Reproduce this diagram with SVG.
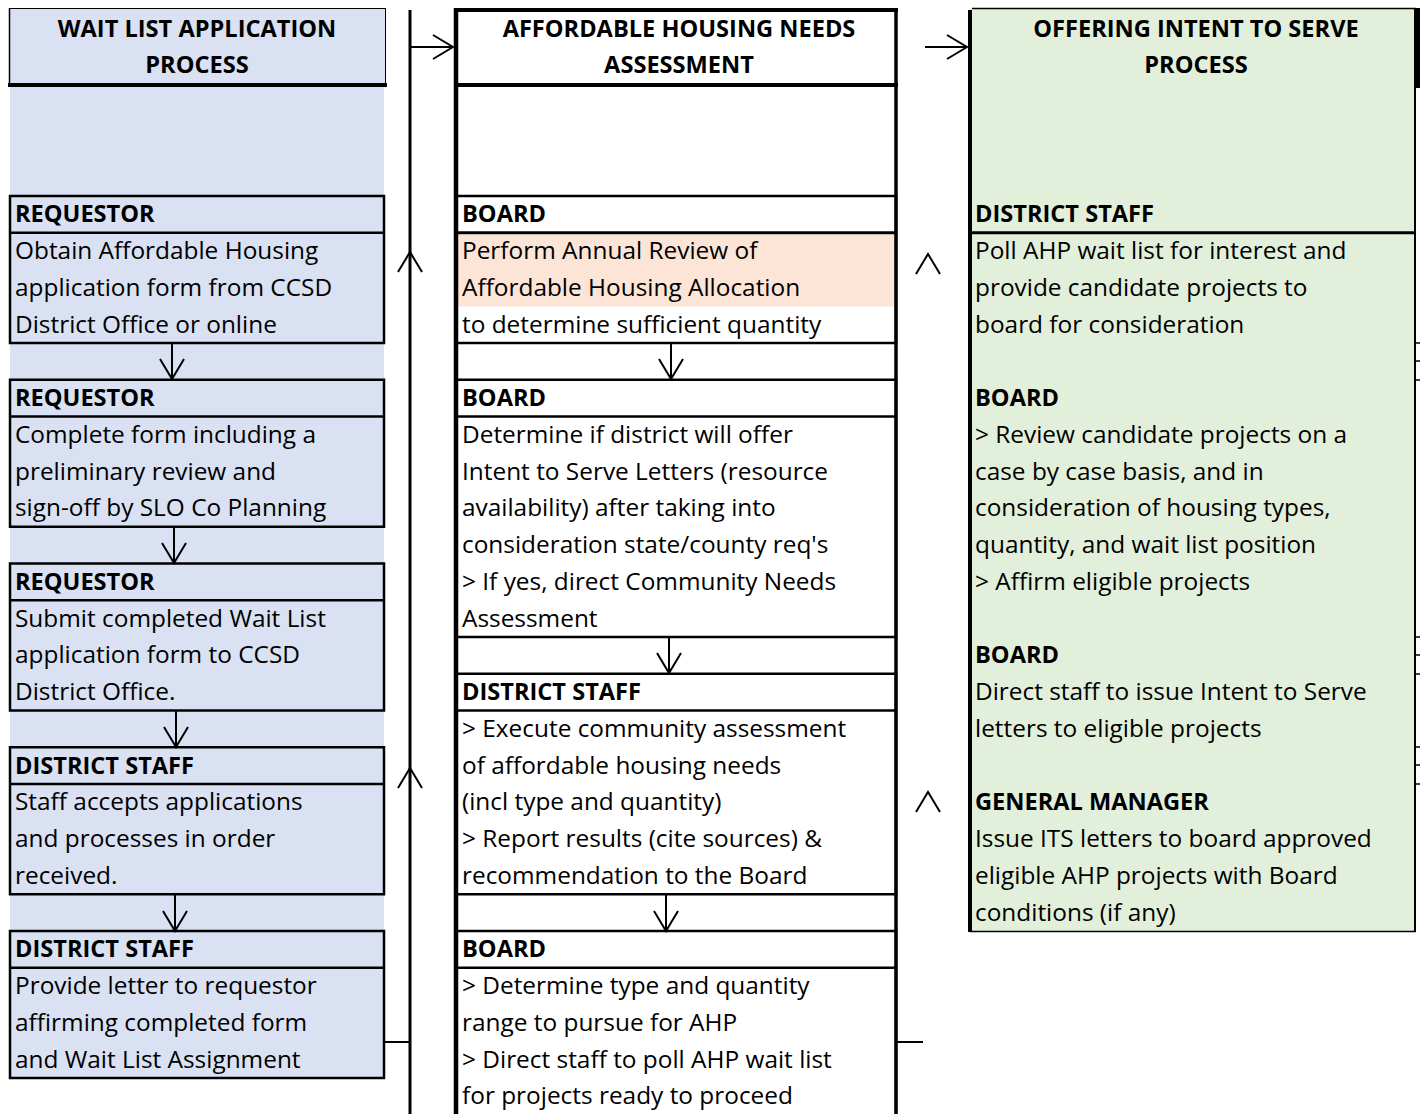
<svg xmlns="http://www.w3.org/2000/svg" width="1420" height="1114" viewBox="0 0 1420 1114">
<defs>
<style>
.t{font-family:"Open Sans","Liberation Sans",sans-serif;font-size:24.4px;fill:#000}
.b{font-weight:bold;font-size:23.6px}
.c{font-weight:bold;font-size:23.6px;text-anchor:middle}
.bx{stroke:#000;stroke-width:2.5}
.blue{fill:#D9E1F2}
.green{fill:#E2EFDA}
.white{fill:#fff}
.ln{stroke:#000;fill:none}
.conn line,.conn polyline{stroke:#000;fill:none;stroke-width:2}
</style>
<marker id="v" viewBox="-22 -14 24 28" refX="0" refY="0" markerWidth="24" markerHeight="28" markerUnits="userSpaceOnUse" orient="auto">
<path d="M-20,-12 L0,0 L-20,12" fill="none" stroke="#000" stroke-width="2"/>
</marker>
<polyline id="up" points="-12,20 0,0 12,20" fill="none" stroke="#000" stroke-width="2"/>
</defs>
<rect width="1420" height="1114" fill="#fff"/>

<!-- LEFT COLUMN -->
<rect class="blue" x="10" y="86" width="374" height="992"/>
<g id="wait-list-header">
<rect class="blue" x="9" y="8" width="377" height="77"/>
<line class="ln" x1="9" y1="8.5" x2="386" y2="8.5" stroke="#888" stroke-width="1"/>
<line class="ln" x1="9.5" y1="8" x2="9.5" y2="86" stroke-width="1.5"/>
<line class="ln" x1="385.5" y1="8" x2="385.5" y2="86" stroke="#888" stroke-width="1"/>
<line class="ln" x1="8" y1="85" x2="387" y2="85" stroke-width="4"/>
<text class="t c" x="197" y="37">WAIT LIST APPLICATION</text>
<text class="t c" x="197" y="73">PROCESS</text>
</g>
<g id="wl-step1">
<rect class="blue bx" x="10" y="196" width="374" height="147"/>
<line class="ln" x1="10" y1="232.75" x2="384" y2="232.75" stroke-width="2.5"/>
<text class="t b" x="15" y="222.4">REQUESTOR</text>
<text class="t" x="15" y="259.15">Obtain Affordable Housing</text>
<text class="t" x="15" y="295.9">application form from CCSD</text>
<text class="t" x="15" y="332.65">District Office or online</text>
</g>
<g id="wl-step2">
<rect class="blue bx" x="10" y="379.75" width="374" height="147"/>
<line class="ln" x1="10" y1="416.5" x2="384" y2="416.5" stroke-width="2.5"/>
<text class="t b" x="15" y="406.15">REQUESTOR</text>
<text class="t" x="15" y="442.9">Complete form including a</text>
<text class="t" x="15" y="479.65">preliminary review and</text>
<text class="t" x="15" y="516.4">sign-off by SLO Co Planning</text>
</g>
<g id="wl-step3">
<rect class="blue bx" x="10" y="563.5" width="374" height="147"/>
<line class="ln" x1="10" y1="600.25" x2="384" y2="600.25" stroke-width="2.5"/>
<text class="t b" x="15" y="589.9">REQUESTOR</text>
<text class="t" x="15" y="626.65">Submit completed Wait List</text>
<text class="t" x="15" y="663.4">application form to CCSD</text>
<text class="t" x="15" y="700.15">District Office.</text>
</g>
<g id="wl-step4">
<rect class="blue bx" x="10" y="747.25" width="374" height="147"/>
<line class="ln" x1="10" y1="784" x2="384" y2="784" stroke-width="2.5"/>
<text class="t b" x="15" y="773.65">DISTRICT STAFF</text>
<text class="t" x="15" y="810.4">Staff accepts applications</text>
<text class="t" x="15" y="847.15">and processes in order</text>
<text class="t" x="15" y="883.9">received.</text>
</g>
<g id="wl-step5">
<rect class="blue bx" x="10" y="931" width="374" height="147"/>
<line class="ln" x1="10" y1="967.75" x2="384" y2="967.75" stroke-width="2.5"/>
<text class="t b" x="15" y="957.4">DISTRICT STAFF</text>
<text class="t" x="15" y="994.15">Provide letter to requestor</text>
<text class="t" x="15" y="1030.9">affirming completed form</text>
<text class="t" x="15" y="1067.65">and Wait List Assignment</text>
</g>

<!-- MIDDLE COLUMN -->
<g id="needs-header">
<rect class="white" x="456" y="10" width="440" height="75"/>
<line class="ln" x1="454" y1="10" x2="898" y2="10" stroke-width="4"/>
<line class="ln" x1="454" y1="85" x2="898" y2="85" stroke-width="4"/>
<text class="t c" x="679" y="37">AFFORDABLE HOUSING NEEDS</text>
<text class="t c" x="679" y="73">ASSESSMENT</text>
</g>
<g id="nd-step1">
<rect class="white bx" x="456" y="196" width="440" height="147"/>
<rect x="458" y="234.5" width="436" height="72" fill="#FCE4D6"/>
<line class="ln" x1="456" y1="232.75" x2="896" y2="232.75" stroke-width="3"/>
<text class="t b" x="462" y="222.4">BOARD</text>
<text class="t" x="462" y="259.15">Perform Annual Review of</text>
<text class="t" x="462" y="295.9">Affordable Housing Allocation</text>
<text class="t" x="462" y="332.65">to determine sufficient quantity</text>
</g>
<g id="nd-step2">
<rect class="white bx" x="456" y="379.75" width="440" height="257.25"/>
<line class="ln" x1="456" y1="416.5" x2="896" y2="416.5" stroke-width="2.5"/>
<text class="t b" x="462" y="406.15">BOARD</text>
<text class="t" x="462" y="442.9">Determine if district will offer</text>
<text class="t" x="462" y="479.65">Intent to Serve Letters (resource</text>
<text class="t" x="462" y="516.4">availability) after taking into</text>
<text class="t" x="462" y="553.15">consideration state/county req's</text>
<text class="t" x="462" y="589.9">&gt; If yes, direct Community Needs</text>
<text class="t" x="462" y="626.65">Assessment</text>
</g>
<g id="nd-step3">
<rect class="white bx" x="456" y="673.75" width="440" height="220.5"/>
<line class="ln" x1="456" y1="710.5" x2="896" y2="710.5" stroke-width="2.5"/>
<text class="t b" x="462" y="700.15">DISTRICT STAFF</text>
<text class="t" x="462" y="736.9">&gt; Execute community assessment</text>
<text class="t" x="462" y="773.65">of affordable housing needs</text>
<text class="t" x="462" y="810.4">(incl type and quantity)</text>
<text class="t" x="462" y="847.15">&gt; Report results (cite sources) &amp;</text>
<text class="t" x="462" y="883.9">recommendation to the Board</text>
</g>
<g id="nd-step4">
<rect class="white bx" x="456" y="931" width="440" height="190"/>
<line class="ln" x1="456" y1="967.75" x2="896" y2="967.75" stroke-width="2.5"/>
<text class="t b" x="462" y="957.4">BOARD</text>
<text class="t" x="462" y="994.15">&gt; Determine type and quantity</text>
<text class="t" x="462" y="1030.9">range to pursue for AHP</text>
<text class="t" x="462" y="1067.65">&gt; Direct staff to poll AHP wait list</text>
<text class="t" x="462" y="1104.4">for projects ready to proceed</text>
</g>
<g id="needs-frame">
<line class="ln" x1="456" y1="8" x2="456" y2="1114" stroke-width="4.5"/>
<line class="ln" x1="896" y1="8" x2="896" y2="1114" stroke-width="3.5"/>
</g>

<!-- RIGHT COLUMN -->
<g id="its-process">
<rect class="green" x="970" y="8" width="445" height="923"/>
<line class="ln" x1="972" y1="8.5" x2="1416" y2="8.5" stroke-width="1.5"/>
<line class="ln" x1="970" y1="931.5" x2="1416" y2="931.5" stroke-width="1.5"/>
<line class="ln" x1="970" y1="10" x2="970" y2="932" stroke-width="4"/>
<line class="ln" x1="1415" y1="8" x2="1415" y2="932" stroke-width="2"/>
<line class="ln" x1="1418" y1="8" x2="1418" y2="88" stroke-width="4"/>
<line class="ln" x1="970" y1="232.75" x2="1415" y2="232.75" stroke-width="3"/>
<g class="ln" stroke-width="1.5">
<line x1="1415" y1="343" x2="1420" y2="343"/><line x1="1415" y1="361" x2="1420" y2="361"/><line x1="1415" y1="380" x2="1420" y2="380"/>
<line x1="1415" y1="637" x2="1420" y2="637"/><line x1="1415" y1="655" x2="1420" y2="655"/><line x1="1415" y1="674" x2="1420" y2="674"/>
<line x1="1415" y1="747" x2="1420" y2="747"/><line x1="1415" y1="765" x2="1420" y2="765"/><line x1="1415" y1="784" x2="1420" y2="784"/>
</g>
<text class="t c" x="1196" y="37">OFFERING INTENT TO SERVE</text>
<text class="t c" x="1196" y="73">PROCESS</text>
<text class="t b" x="975" y="222.4">DISTRICT STAFF</text>
<text class="t" x="975" y="259.15">Poll AHP wait list for interest and</text>
<text class="t" x="975" y="295.9">provide candidate projects to</text>
<text class="t" x="975" y="332.65">board for consideration</text>
<text class="t b" x="975" y="406.15">BOARD</text>
<text class="t" x="975" y="442.9">&gt; Review candidate projects on a</text>
<text class="t" x="975" y="479.65">case by case basis, and in</text>
<text class="t" x="975" y="516.4">consideration of housing types,</text>
<text class="t" x="975" y="553.15">quantity, and wait list position</text>
<text class="t" x="975" y="589.9">&gt; Affirm eligible projects</text>
<text class="t b" x="975" y="663.4">BOARD</text>
<text class="t" x="975" y="700.15">Direct staff to issue Intent to Serve</text>
<text class="t" x="975" y="736.9">letters to eligible projects</text>
<text class="t b" x="975" y="810.4">GENERAL MANAGER</text>
<text class="t" x="975" y="847.15">Issue ITS letters to board approved</text>
<text class="t" x="975" y="883.9">eligible AHP projects with Board</text>
<text class="t" x="975" y="920.65">conditions (if any)</text>
</g>

<!-- CONNECTORS -->
<g id="connectors" class="conn">
<line x1="410" y1="10" x2="410" y2="1114" style="stroke-width:3"/>
<line x1="410" y1="47" x2="453" y2="47" marker-end="url(#v)"/>
<use href="#up" x="410" y="252"/>
<use href="#up" x="410" y="768"/>
<line x1="384" y1="1042" x2="410" y2="1042"/>
<line x1="172" y1="343" x2="172" y2="379" marker-end="url(#v)"/>
<line x1="174" y1="526.75" x2="174" y2="563" marker-end="url(#v)"/>
<line x1="176" y1="710.5" x2="176" y2="747" marker-end="url(#v)"/>
<line x1="175" y1="894.25" x2="175" y2="931" marker-end="url(#v)"/>
<line x1="671" y1="343" x2="671" y2="379" marker-end="url(#v)"/>
<line x1="669" y1="637" x2="669" y2="673" marker-end="url(#v)"/>
<line x1="666" y1="894.25" x2="666" y2="931" marker-end="url(#v)"/>
<line x1="925" y1="47" x2="967" y2="47" marker-end="url(#v)"/>
<use href="#up" x="928" y="254"/>
<use href="#up" x="928" y="792"/>
<line x1="896" y1="1042" x2="923" y2="1042"/>
</g>
</svg>
